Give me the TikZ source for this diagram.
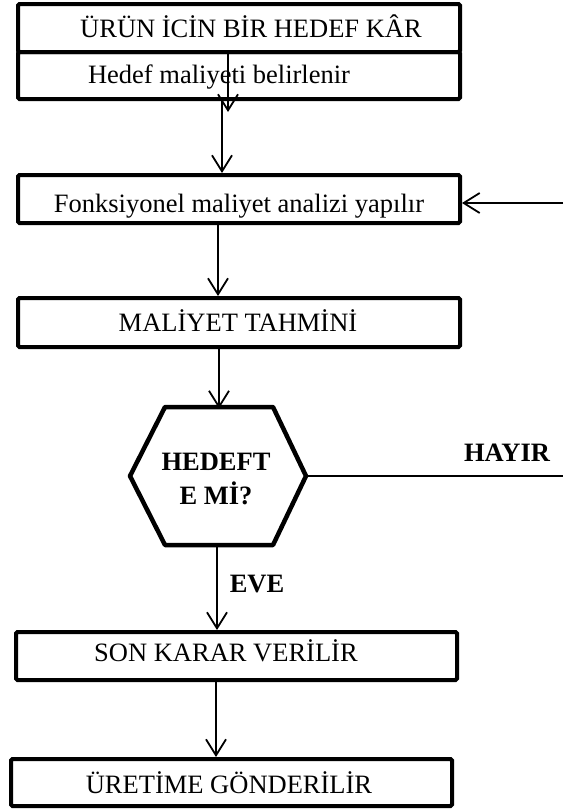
\documentclass[tikz,border=0pt]{standalone}
\usepackage{fontspec}
\setmainfont{Liberation Serif}
\usetikzlibrary{arrows.meta}

\begin{document}
\begin{tikzpicture}[x=1pt,y=-1pt,
  box/.style={draw, line width=4pt, rounded corners=1.5pt, inner sep=0pt},
  label/.style={anchor=base, inner sep=0pt, font=\fontsize{26.5}{32}\selectfont},
  boldlabel/.style={label, font=\fontsize{26.5}{32}\selectfont\bfseries},
  flow/.style={line width=1.8pt, -{Straight Barb[length=16pt,width=20pt]}},
  plain/.style={line width=1.5pt}
]
\useasboundingbox (0,0) rectangle (563,809);

% process boxes
\node[box, minimum width=442pt, minimum height=48pt] (goal)   at (239,28)    {};
\node[box, minimum width=442pt, minimum height=47pt] (target) at (239,75.5)  {};
\node[box, minimum width=442pt, minimum height=48pt] (func)   at (239,199)   {};
\node[box, minimum width=442pt, minimum height=49pt] (est)    at (239,322.5) {};
\node[box, minimum width=441pt, minimum height=48pt] (final)  at (236.5,656) {};
\node[box, minimum width=441pt, minimum height=47pt] (prod)   at (231.5,782.5) {};

% box texts
\node[label] (tGoal)   at (251,37)  {ÜRÜN İCİN BİR HEDEF KÂR};
\node[label] (tTarget) at (219,83)  {Hedef maliyeti belirlenir};
\node[label] (tFunc)   at (239,212) {Fonksiyonel maliyet analizi yapılır};
\node[label] (tEst)    at (238,331) {MALİYET TAHMİNİ};
\node[label] (tFinal)  at (226,661) {SON KARAR VERİLİR};
\node[label] (tProd)   at (229,793) {ÜRETİME GÖNDERİLİR};

% decision hexagon
\coordinate (hW)  at (130,476);
\coordinate (hNW) at (165,407);
\coordinate (hNE) at (273,407);
\coordinate (hE)  at (306,476);
\coordinate (hSE) at (273,545);
\coordinate (hSW) at (165,545);
\draw[line width=4.5pt, line join=round] (hW) -- (hNW) -- (hNE) -- (hE) -- (hSE) -- (hSW) -- cycle;
\node[boldlabel] (q1) at (216,470) {HEDEFT};
\node[boldlabel] (q2) at (216,504) {E Mİ?};

% branch labels
\node[boldlabel] (no)  at (507,461) {HAYIR};
\node[boldlabel] (yes) at (257,592) {EVE};

% connector columns and free ends
\coordinate (c1) at (228,0);
\coordinate (c2) at (222,0);
\coordinate (c3) at (218,0);
\coordinate (c4) at (219,0);
\coordinate (c5) at (217,0);
\coordinate (c6) at (216,0);
\coordinate (stub) at (228,112);
\coordinate (loopIn)  at (563,203);
\coordinate (loopOut) at (563,476);

% connectors
\draw[flow] (goal.south -| c1) -- (stub);
\draw[flow] (target.south -| c2) -- (func.north -| c2);
\draw[flow] (loopIn) -- (func.east |- loopIn);
\draw[flow] (func.south -| c3) -- (est.north -| c3);
\draw[flow] (est.south -| c4) -- ([yshift=-1.5pt]hNW -| c4);
\draw[flow] ([yshift=2pt]hSW -| c5) -- (final.north -| c5);
\draw[flow] (final.south -| c6) -- (prod.north -| c6);
\draw[plain] (hE) -- (loopOut);
\end{tikzpicture}
\end{document}
